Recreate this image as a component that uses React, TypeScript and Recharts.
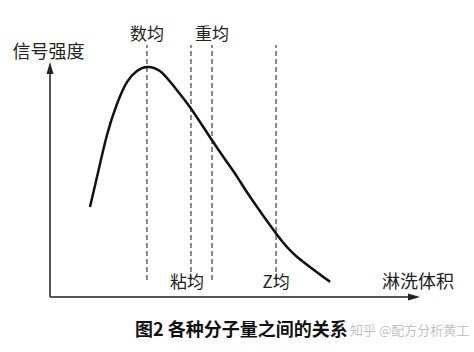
import { LineChart, Line, XAxis, YAxis, ReferenceLine } from 'recharts';

// elution volume (x) vs detector signal (y), both on a 0-100 scale
const volume = [10.8, 12.7, 15.4, 18.1, 20.8, 23.5, 26.2, 29.7, 33.2, 37.8, 43.2, 47.8, 50.8, 54.1, 61.4, 66.8, 75.7];
const signal = [35.7, 47.6, 64.3, 76.6, 85.3, 89.7, 91.3, 89.7, 84.1, 75.4, 63.5, 53.6, 47.2, 39.7, 24.6, 15.9, 6.0];

const averageNames = ['数均', '粘均', '重均', 'Z均'];
const averageVolume = [26.2, 38.1, 43.8, 61.1];
const averageLabelSide = ['top', 'bottom', 'top', 'bottom'];

const yAxisTop = 93.3;
const markerTop = 100;
const markerBottom = 6.7;

const data = volume.map((v, i) => ({ volume: v, signal: signal[i] }));

const FONT = '"Noto Sans CJK SC", "Noto Sans", sans-serif';
const AXIS = '#555';

function Arrow(props: any) {
  const { x1, y1, x2, y2 } = props;
  const dx = x2 - x1;
  const dy = y2 - y1;
  const len = Math.hypot(dx, dy) || 1;
  const ux = dx / len;
  const uy = dy / len;
  const hl = 12;
  const hw = 3.5;
  const bx = x2 - ux * hl;
  const by = y2 - uy * hl;
  const pts = `${x2},${y2} ${bx - uy * hw},${by + ux * hw} ${bx + uy * hw},${by - ux * hw}`;
  return (
    <g>
      <line x1={x1} y1={y1} x2={bx} y2={by} stroke={AXIS} strokeWidth={2} />
      <polygon points={pts} fill="#222" />
    </g>
  );
}

export default function App() {
  return (
    <div style={{ position: 'absolute', left: 0, top: 0, width: 474, height: 352, background: '#fff' }}>
      <LineChart width={474} height={352} data={data} margin={{ top: 45, right: 54, bottom: 55, left: 50 }}>
        <XAxis type="number" dataKey="volume" domain={[0, 100]} hide />
        <YAxis type="number" domain={[0, 100]} hide />
        <ReferenceLine segment={[{ x: 0, y: 0 }, { x: 100, y: 0 }]} shape={Arrow} ifOverflow="visible" />
        <ReferenceLine segment={[{ x: 0, y: 0 }, { x: 0, y: yAxisTop }]} shape={Arrow} ifOverflow="visible" />
        {averageVolume.map((v, i) => (
          <ReferenceLine
            key={averageNames[i]}
            segment={[{ x: v, y: markerBottom }, { x: v, y: markerTop }]}
            stroke="#666"
            strokeWidth={1.5}
            strokeDasharray="5 3"
            ifOverflow="visible"
            label={{
              value: averageNames[i],
              position: averageLabelSide[i] as any,
              offset: averageLabelSide[i] === 'top' ? 5 : -4,
              dx: averageLabelSide[i] === 'bottom' && i === 1 ? -4 : 0,
              fill: '#222',
              fontSize: 17,
              fontFamily: FONT,
            }}
          />
        ))}
        <Line
          type="natural"
          dataKey="signal"
          stroke="#111"
          strokeWidth={2.5}
          dot={false}
          isAnimationActive={false}
        />
        <text x={48.5} y={50} textAnchor="middle" dominantBaseline="central" fontSize={18} fontFamily={FONT} fill="#222">
          信号强度
        </text>
        <text x={418} y={280} textAnchor="middle" dominantBaseline="central" fontSize={18} fontFamily={FONT} fill="#222">
          淋洗体积
        </text>
        <text x={135} y={328} dominantBaseline="central" fontSize={18} fontWeight="bold" fontFamily={FONT} fill="#111">
          图2 各种分子量之间的关系
        </text>
        <text x={350} y={329} dominantBaseline="central" fontSize={13} fontFamily={FONT} fill="#bbb" fillOpacity={0.9}>
          知乎 @配方分析黄工
        </text>
      </LineChart>
    </div>
  );
}
